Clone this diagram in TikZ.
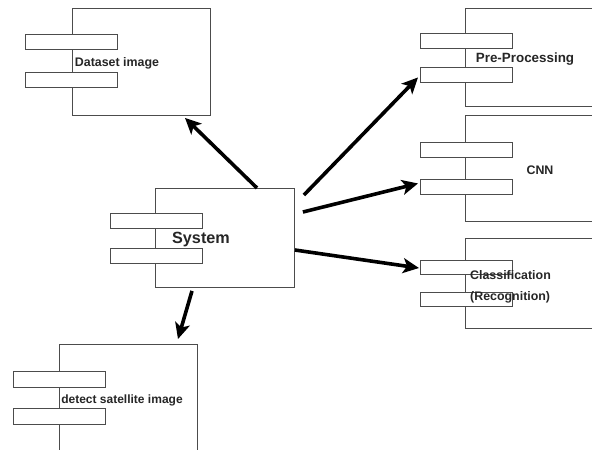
\documentclass[tikz,border=0pt]{standalone}
\usepackage{fontspec}
\setmainfont{Liberation Sans}
\usetikzlibrary{arrows.meta,calc}
\tikzset{
  body/.style={draw=black!70, line width=0.9pt, fill=white, inner sep=0pt, anchor=north west},
  tab/.style={draw=black!70, line width=0.9pt, fill=white, inner sep=0pt, anchor=north west, minimum width=92pt, minimum height=15pt},
  lbl/.style={font=\bfseries\fontsize{12.4}{14}\selectfont, inner sep=0pt, text=black!85},
  link/.style={line width=3.6pt, -{Stealth[length=16pt, width=15pt, inset=4pt]}},
}
\begin{document}
\begin{tikzpicture}[x=1pt,y=-1pt]
\useasboundingbox (0,0) rectangle (592,450);
\clip (0,0) rectangle (592,450);
% Dataset image
\node[body, minimum width=138pt, minimum height=107pt] (ds) at (72,8) {};
\node[tab] (dst1) at (25,34) {};
\node[tab] (dst2) at (25,72) {};
\node[lbl] (dsl) at (117,63) {Dataset image};
% Pre-Processing
\node[body, minimum width=140pt, minimum height=98pt] (pp) at (465,8) {};
\node[tab] (ppt1) at (420,33) {};
\node[tab] (ppt2) at (420,67) {};
\node[lbl, font=\bfseries\fontsize{13.4}{15}\selectfont] (ppl) at (525,59) {Pre-Processing};
% CNN
\node[body, minimum width=140pt, minimum height=106pt] (cnn) at (465,115) {};
\node[tab] (cnnt1) at (420,142) {};
\node[tab] (cnnt2) at (420,179) {};
\node[lbl] (cnnl) at (540,170) {CNN};
% Classification
\node[body, minimum width=140pt, minimum height=90pt] (cls) at (465,238) {};
\node[tab, minimum height=14pt] (clst1) at (420,260) {};
\node[tab, minimum height=14pt] (clst2) at (420,292) {};
\node[lbl, align=left, anchor=north west, font=\bfseries\fontsize{12.4}{21}\selectfont] (clsl) at (470,270) {Classification\\(Recognition)};
% System
\node[body, minimum width=139pt, minimum height=99pt] (sys) at (155,188) {};
\node[tab] (syst1) at (110,213) {};
\node[tab] (syst2) at (110,248) {};
\node[lbl, font=\bfseries\fontsize{16.2}{18}\selectfont] (sysl) at (201,240) {System};
% detect satellite image
\node[body, minimum width=138pt, minimum height=120pt] (det) at (59,344) {};
\node[tab, minimum height=16pt] (dett1) at (13,371) {};
\node[tab, minimum height=16pt] (dett2) at (13,408) {};
\node[lbl, font=\bfseries\fontsize{12}{14}\selectfont] (detl) at (122,400) {detect satellite image};
% connectors
\draw[link] ($(sys.north west)+(102,0)$) -- ($(ds.south west)+(113,2)$);
\draw[link] ($(sys.north east)+(9,7)$) -- ($(pp.west)+(-47,20)$);
\draw[link] ($(sys.north east)+(8,24)$) -- ($(cnn.west)+(-47,15)$);
\draw[link] ($(sys.north east)+(0,62)$) -- ($(cls.north west)+(-46,30)$);
\draw[link] ($(sys.south west)+(37,3)$) -- ($(det.north west)+(119,-5)$);
\end{tikzpicture}
\end{document}
